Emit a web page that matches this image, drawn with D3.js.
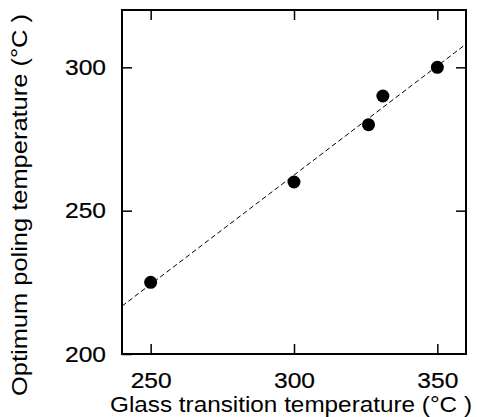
<!DOCTYPE html>
<html>
<head>
<meta charset="utf-8">
<script src="https://cdn.jsdelivr.net/npm/d3@7"></script>
<style>
  body { margin: 0; background: #fff; }
  svg text { font-family: "Liberation Sans", Arial, Helvetica, sans-serif; fill: #000; }
  .tick text { stroke: #000; stroke-width: 0.2px; }
</style>
</head>
<body>
<div id="mount"></div>
<script>
// measured points: glass transition vs optimum poling temperature
var glassTemp = [250, 300, 326, 331, 350];
var polingTemp = [225, 260, 280, 290, 300];

// dashed fit line, read from its two ends on the frame
var fitX = [240, 360];
var fitY = [216.7, 308.1];

var xTicks = [250, 300, 350];
var yTicks = [200, 250, 300];

var margin = { top: 10, right: 11, bottom: 63, left: 122 };
var width = 477 - margin.left - margin.right,
    height = 417 - margin.top - margin.bottom;

var svg = d3.select('#mount').append('svg')
    .attr('width', 477)
    .attr('height', 417);

var graph = svg.append('g')
    .attr('transform', `translate(${margin.left},${margin.top})`);

var x = d3.scaleLinear().domain([240, 360]).range([0, width]);
var y = d3.scaleLinear().domain([200, 320]).range([height, 0]);

// inward ticks on all four sides, labels only bottom and left
var xAxis = d3.axisBottom(x).tickValues(xTicks).tickSize(-10).tickPadding(18).tickSizeOuter(0);
var yAxis = d3.axisLeft(y).tickValues(yTicks).tickSize(-10).tickPadding(16).tickSizeOuter(0);
var xTop = d3.axisTop(x).tickValues(xTicks).tickSize(-10).tickFormat('').tickSizeOuter(0);
var yRight = d3.axisRight(y).tickValues(yTicks.slice(1)).tickSize(-10).tickFormat('').tickSizeOuter(0);

function style(g) {
  g.select('.domain').remove();
  g.selectAll('line').attr('stroke', '#000').attr('stroke-width', 1.5);
  // the original lettering is a wide helvetica, stretch it a bit
  g.selectAll('text')
      .style('font-size', '22.5px')
      .attr('fill', '#000')
      .attr('textLength', 41)
      .attr('lengthAdjust', 'spacingAndGlyphs');
}

graph.append('g').attr('transform', `translate(0,${height})`).call(xAxis).call(style);
graph.append('g').call(yAxis).call(style);
graph.append('g').call(xTop).call(style);
graph.append('g').attr('transform', `translate(${width},0)`).call(yRight).call(style);

// frame
graph.append('rect')
    .attr('width', width)
    .attr('height', height)
    .attr('fill', 'none')
    .attr('stroke', '#000')
    .attr('stroke-width', 2);

// fit line
var fit = fitX.map((v, i) => [v, fitY[i]]);
graph.append('path')
    .datum(fit)
    .attr('d', d3.line().x(d => x(d[0])).y(d => y(d[1])))
    .attr('fill', 'none')
    .attr('stroke', '#000')
    .attr('stroke-width', 1)
    .attr('stroke-dasharray', '5,3');

graph.selectAll('.point')
    .data(glassTemp)
  .enter().append('circle')
    .attr('class', 'point')
    .attr('r', 6.5)
    .attr('cx', d => x(d))
    .attr('cy', (d, i) => y(polingTemp[i]))
    .attr('fill', '#000');

// axis titles
svg.append('text')
    .attr('x', 291)
    .attr('y', 412)
    .attr('text-anchor', 'middle')
    .attr('textLength', 362)
    .attr('lengthAdjust', 'spacingAndGlyphs')
    .style('font-size', '22px')
    .text('Glass transition temperature (°C )');

svg.append('text')
    .attr('transform', 'translate(27,205) rotate(-90)')
    .attr('text-anchor', 'middle')
    .attr('textLength', 382)
    .attr('lengthAdjust', 'spacingAndGlyphs')
    .style('font-size', '22px')
    .text('Optimum poling temperature (°C )');
</script>
</body>
</html>
